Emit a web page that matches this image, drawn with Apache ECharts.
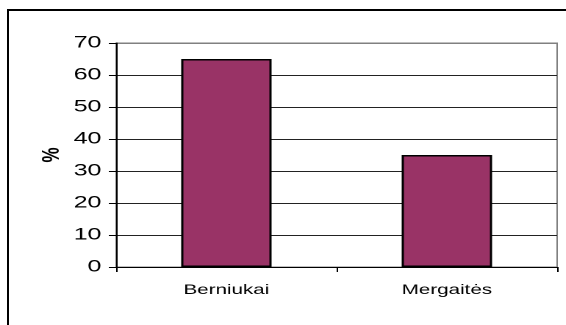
<!DOCTYPE html>
<html>
<head>
<meta charset="utf-8">
<script src="https://cdn.jsdelivr.net/npm/echarts@6/dist/echarts.min.js"></script>
<style>
  html, body { margin: 0; padding: 0; background: #fff; overflow: hidden; }
  #wrap { position: relative; width: 566px; height: 325px; overflow: hidden; }
  #chart { position: absolute; left: 0; top: 0; width: 385px; height: 325px; transform: scaleX(1.47); transform-origin: 0 0; }
  #frame { position: absolute; left: 7px; top: 9px; width: 620px; height: 400px; border-left: 2px solid #000; border-top: 2px solid #000; pointer-events: none; }
</style>
</head>
<body>
<div id="wrap">
  <div id="chart"></div>
  <div id="frame"></div>
</div>
<script>
const categories = ['Berniukai', 'Mergaitės'];
const values = [65, 35];
const yTicks = { min: 0, max: 70, interval: 10 };
const yName = '%';

const chart = echarts.init(document.getElementById('chart'), null, { renderer: 'canvas', devicePixelRatio: 2 });
chart.setOption({
  animation: false,
  backgroundColor: '#fff',
  grid: {
    left: 79, right: 6, top: 43, bottom: 58,
    show: true, borderColor: '#808080', borderWidth: 1, backgroundColor: 'transparent'
  },
  xAxis: {
    type: 'category',
    data: categories,
    axisLine: { show: true, lineStyle: { color: '#000', width: 1 } },
    axisTick: { show: true, length: 5, lineStyle: { color: '#000' } },
    axisLabel: { margin: 16, color: '#000', fontFamily: 'Liberation Sans, Arial, sans-serif', fontSize: 14 },
    splitLine: { show: false }
  },
  yAxis: {
    type: 'value',
    min: yTicks.min, max: yTicks.max, interval: yTicks.interval,
    name: yName,
    nameLocation: 'middle',
    nameRotate: 90,
    nameGap: 35,
    nameMoveOverlap: false,
    nameTextStyle: { color: '#000', fontFamily: 'Liberation Sans, Arial, sans-serif', fontSize: 17, fontWeight: 'bold' },
    axisLine: { show: true, lineStyle: { color: '#000', width: 1 } },
    axisTick: { show: true, length: 5, lineStyle: { color: '#000' } },
    axisLabel: { margin: 10, color: '#000', fontFamily: 'Liberation Sans, Arial, sans-serif', fontSize: 17 },
    splitLine: { show: true, lineStyle: { color: ['#222', '#222', '#222', '#222', '#222', '#222', '#222', '#808080'], width: 1 } }
  },
  series: [{
    type: 'bar',
    data: values,
    barWidth: '41%',
    itemStyle: { color: '#993366', borderColor: '#000', borderWidth: 1.5 }
  }]
});
</script>
</body>
</html>
